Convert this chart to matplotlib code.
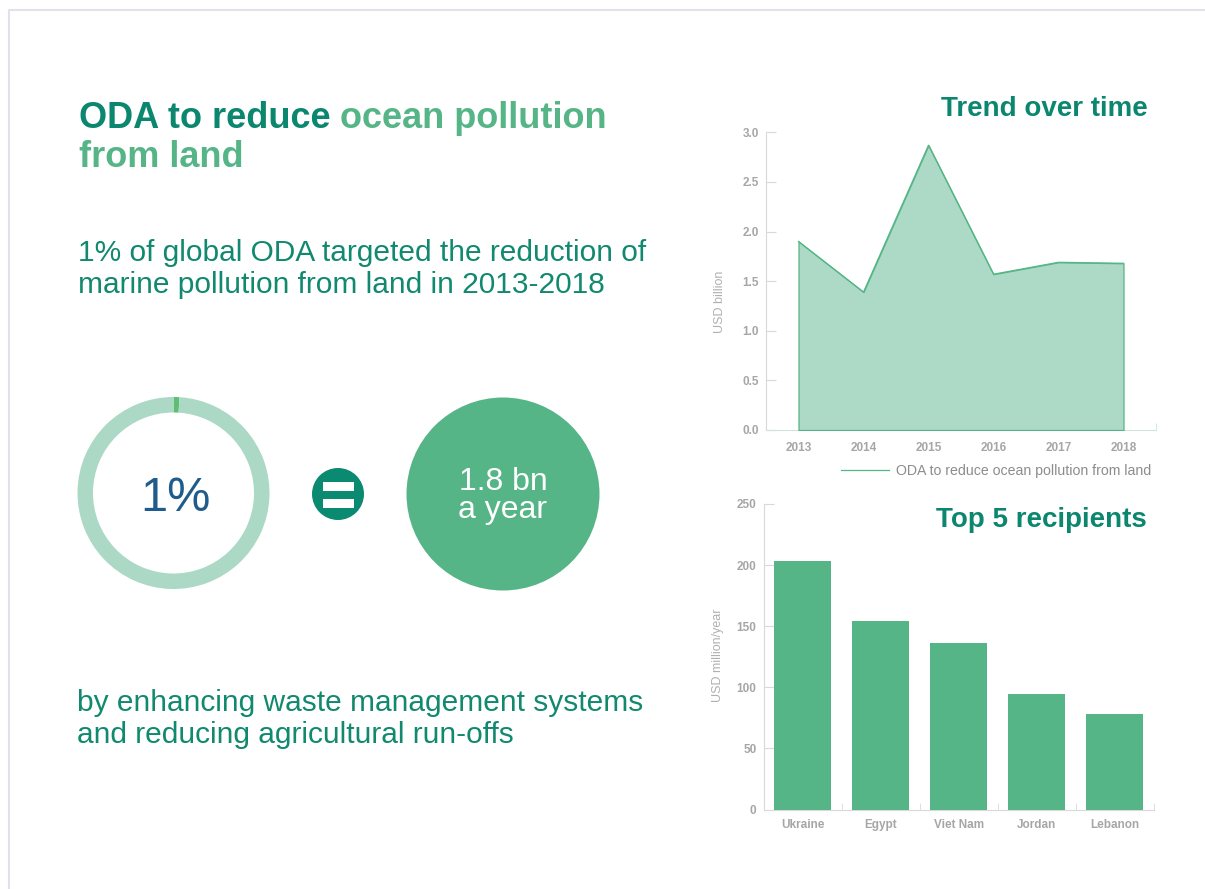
import matplotlib
matplotlib.use("Agg")
import matplotlib.pyplot as plt
from matplotlib.patches import Circle, Rectangle
from matplotlib.ticker import FormatStrFormatter, FixedLocator

# -----------------------------
# Data
# -----------------------------
years = [2013, 2014, 2015, 2016, 2017, 2018]
oda_bn = [1.90, 1.39, 2.87, 1.57, 1.69, 1.68]

recipients = ["Ukraine", "Egypt", "Viet Nam", "Jordan", "Lebanon"]
recipient_musd = [203, 154, 136, 94.5, 78]

share_pct = [1, 99]          # share of global ODA
share_label = "1%"
amount_text = "1.8 bn\na year"

# colours
DARK = "#0b876f"
LIGHT = "#56b587"
BODY = "#11896f"
PALE = "#abd9c5"
GREY = "#a6a6a6"
SPINE = "#d9d9d9"

plt.rcParams["font.family"] = ["Liberation Sans", "DejaVu Sans"]

W, H = 1205, 889
fig = plt.figure(figsize=(W / 100, H / 100), dpi=100)

# -----------------------------
# Background / left panel (pixel coords)
# -----------------------------
bg = fig.add_axes([0, 0, 1, 1])
bg.pie(share_pct, center=(173.5, 493), radius=96, startangle=270,
       counterclock=True, colors=["#5dbe74", PALE],
       wedgeprops=dict(width=15.5, linewidth=0))
bg.set_xlim(0, W)
bg.set_ylim(H, 0)
bg.set_aspect("auto")
bg.axis("off")

bg.plot([9, 9, W], [H, 10, 10], color="#dfe2ea", lw=1.5)

t1 = bg.text(79, 128.5, "ODA to reduce", color=DARK, fontsize=26,
             fontweight="bold", va="baseline")
bg.annotate("ocean pollution", xy=(1, 0), xycoords=t1, xytext=(7, 0),
            textcoords="offset points", color=LIGHT, fontsize=26,
            fontweight="bold", va="bottom")
bg.text(79, 167, "from land", color=LIGHT, fontsize=26,
        fontweight="bold", va="baseline")

bg.text(78, 261, "1% of global ODA targeted the reduction of", color=BODY,
        fontsize=21.5, va="baseline")
bg.text(78, 293, "marine pollution from land in 2013-2018", color=BODY,
        fontsize=21.5, va="baseline")

bg.text(77, 711, "by enhancing waste management systems", color=BODY,
        fontsize=21.5, va="baseline")
bg.text(77, 743, "and reducing agricultural run-offs", color=BODY,
        fontsize=21.5, va="baseline")

bg.text(175.5, 511, share_label, color="#1f5c8b", fontsize=35,
        ha="center", va="baseline")

# equals sign
bg.add_patch(Circle((338, 494), 26, color="#0b8a72", lw=0))
bg.add_patch(Rectangle((322.5, 482.3), 31.5, 8.5, color="white", lw=0))
bg.add_patch(Rectangle((322.5, 499), 31.5, 9, color="white", lw=0))

# amount circle
bg.add_patch(Circle((503, 494), 96.5, color=LIGHT, lw=0))
bg.text(503, 496, amount_text, color="white", fontsize=23,
        ha="center", va="center", multialignment="center", linespacing=0.88)

# -----------------------------
# Trend over time (area)
# -----------------------------
ax1 = fig.add_axes([766 / W, 1 - 430 / H, 390 / W, (430 - 132.3) / H])
ax1.fill_between(years, oda_bn, 0, facecolor="#acdac6", edgecolor=LIGHT,
                 lw=0.9, zorder=3)
ax1.plot(years, oda_bn, color=LIGHT, lw=0.9, zorder=4,
         label="ODA to reduce ocean pollution from land")
ax1.set_xlim(2012.5, 2018.5)
ax1.set_ylim(0, 3)
ax1.set_xticks(years)
ax1.set_xticklabels([str(y) for y in years])
ax1.xaxis.set_minor_locator(FixedLocator([2012.5 + i for i in range(7)]))
ax1.set_yticks([0, 0.5, 1, 1.5, 2, 2.5, 3])
ax1.yaxis.set_major_formatter(FormatStrFormatter("%.1f"))
for s in ["top", "right"]:
    ax1.spines[s].set_visible(False)
ax1.spines["left"].set_color(SPINE)
ax1.spines["bottom"].set_color("#cfe5d9")
ax1.tick_params(axis="y", direction="in", length=7, color=SPINE, pad=5,
                labelsize=8.5, labelcolor=GREY)
ax1.tick_params(axis="x", which="major", length=0, pad=9, labelsize=8.5,
                labelcolor=GREY)
ax1.tick_params(axis="x", which="minor", direction="in", length=5,
                color="#cfe5d9")
for lab in ax1.get_xticklabels() + ax1.get_yticklabels():
    lab.set_fontweight("bold")
ax1.set_ylabel("USD billion", fontsize=9, color="#b0b0b0")
ax1.yaxis.set_label_coords(-0.103, 0.43)
ax1.legend(loc="center right", bbox_to_anchor=(1151 / W, 1 - 471 / H),
           bbox_transform=fig.transFigure, frameon=False, borderpad=0,
           borderaxespad=0, handlelength=3.4, handletextpad=0.5,
           fontsize=10.2, labelcolor="#8c8c8c")
fig.text(1148 / W, 1 - 116 / H, "Trend over time", color=DARK, fontsize=20,
         fontweight="bold", ha="right", va="baseline")

# -----------------------------
# Top 5 recipients (bars)
# -----------------------------
ax2 = fig.add_axes([763.5 / W, 1 - 809.5 / H, 390.5 / W, 305.5 / H])
xpos = list(range(len(recipients)))
ax2.bar(xpos, recipient_musd, width=0.73, color=LIGHT, zorder=3)
ax2.set_xlim(-0.5, len(recipients) - 0.5)
ax2.set_ylim(0, 250)
ax2.set_yticks([0, 50, 100, 150, 200, 250])
ax2.set_xticks(xpos)
ax2.set_xticklabels(recipients)
ax2.xaxis.set_minor_locator(FixedLocator([i - 0.5 for i in range(6)]))
for s in ["top", "right"]:
    ax2.spines[s].set_visible(False)
ax2.spines["left"].set_color(SPINE)
ax2.spines["bottom"].set_color(SPINE)
ax2.tick_params(axis="y", direction="in", length=7, color=SPINE, pad=5,
                labelsize=8.5, labelcolor=GREY)
ax2.tick_params(axis="x", which="major", length=0, pad=7, labelsize=8.5,
                labelcolor=GREY)
ax2.tick_params(axis="x", which="minor", direction="in", length=5,
                color=SPINE)
for lab in ax2.get_xticklabels() + ax2.get_yticklabels():
    lab.set_fontweight("bold")
ax2.set_ylabel("USD million/year", fontsize=9, color="#b0b0b0")
ax2.yaxis.set_label_coords(-0.1, 0.505)
fig.text(1147 / W, 1 - 527 / H, "Top 5 recipients", color=DARK, fontsize=20,
         fontweight="bold", ha="right", va="baseline")

fig.savefig("out.png", dpi=100)
